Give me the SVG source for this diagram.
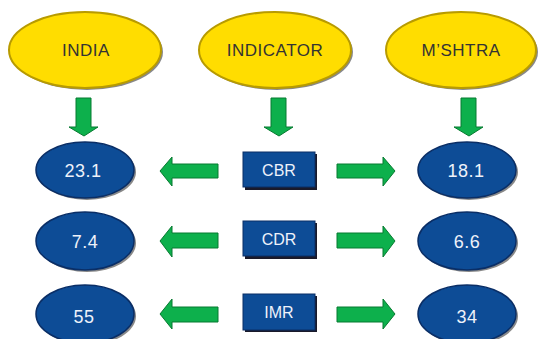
<svg xmlns="http://www.w3.org/2000/svg" width="538" height="339" viewBox="0 0 538 339">
<defs>
<style>
.ye{fill:#FFDD00;stroke:#B89B00;stroke-width:2}
.sh{fill:#555;opacity:0.7}
.be{fill:#0D4C96;stroke:#0A2E66;stroke-width:1.5}
.bx{fill:#0D4C96;stroke:#0A2E66;stroke-width:1}
.ar{fill:#0DB04C;stroke:#077A30;stroke-width:1}
.yt{font-family:"Liberation Sans",Arial,sans-serif;font-size:17px;fill:#333;text-anchor:middle;letter-spacing:0.5px}
.wt{font-family:"Liberation Sans",Arial,sans-serif;font-size:18px;fill:#EEF2FA;text-anchor:middle;letter-spacing:0.5px}
.bt{font-family:"Liberation Sans",Arial,sans-serif;font-size:16px;fill:#EEF2FA;text-anchor:middle}
</style>
</defs>
<rect width="538" height="339" fill="#fff"/>
<g id="india">
<ellipse class="sh" cx="87" cy="52" rx="76" ry="38"/>
<ellipse class="ye" cx="85" cy="50" rx="76" ry="38"/>
<text class="yt" x="86" y="56">INDIA</text>
</g>
<g id="indicator">
<ellipse class="sh" cx="277" cy="52" rx="76" ry="38"/>
<ellipse class="ye" cx="275" cy="50" rx="76" ry="38"/>
<text class="yt" x="275" y="56">INDICATOR</text>
</g>
<g id="mshtra">
<ellipse class="sh" cx="463" cy="52" rx="75" ry="38"/>
<ellipse class="ye" cx="461" cy="50" rx="75" ry="38"/>
<text class="yt" x="461" y="56">M’SHTRA</text>
</g>
<g id="v231">
<ellipse class="sh" cx="87" cy="172" rx="49" ry="28"/>
<ellipse class="be" cx="85" cy="170" rx="49" ry="28"/>
<text class="wt" x="83" y="177">23.1</text>
</g>
<g id="v74">
<ellipse class="sh" cx="87" cy="243" rx="49" ry="29"/>
<ellipse class="be" cx="85" cy="241" rx="49" ry="29"/>
<text class="wt" x="85" y="248">7.4</text>
</g>
<g id="v55">
<ellipse class="sh" cx="87" cy="316" rx="49" ry="29"/>
<ellipse class="be" cx="85" cy="314" rx="49" ry="29"/>
<text class="wt" x="84" y="323">55</text>
</g>
<g id="v181">
<ellipse class="sh" cx="469" cy="172" rx="49" ry="28"/>
<ellipse class="be" cx="467" cy="170" rx="49" ry="28"/>
<text class="wt" x="466" y="177">18.1</text>
</g>
<g id="v66">
<ellipse class="sh" cx="469" cy="243" rx="49" ry="29"/>
<ellipse class="be" cx="467" cy="241" rx="49" ry="29"/>
<text class="wt" x="467" y="248">6.6</text>
</g>
<g id="v34">
<ellipse class="sh" cx="469" cy="316" rx="49" ry="29"/>
<ellipse class="be" cx="467" cy="314" rx="49" ry="29"/>
<text class="wt" x="467" y="323">34</text>
</g>
<g id="cbr">
<rect x="245" y="154" width="72" height="36" fill="#1a1a2a"/>
<rect class="bx" x="243" y="152" width="72" height="35"/>
<text class="bt" x="279" y="176">CBR</text>
</g>
<g id="cdr">
<rect x="245" y="223" width="72" height="36" fill="#1a1a2a"/>
<rect class="bx" x="243" y="221" width="72" height="35"/>
<text class="bt" x="279" y="245">CDR</text>
</g>
<g id="imr">
<rect x="245" y="296" width="72" height="36" fill="#1a1a2a"/>
<rect class="bx" x="243" y="294" width="72" height="36"/>
<text class="bt" x="279" y="318">IMR</text>
</g>
<g id="connectors">
<polygon class="ar" points="76,98 91,98 91,127 98,127 84,136 69,127 76,127"/>
<polygon class="ar" points="271,98 286,98 286,127 293,127 279,136 264,127 271,127"/>
<polygon class="ar" points="461,98 476,98 476,127 483,127 469,136 454,127 461,127"/>
<polygon class="ar" points="218,164 172,164 172,157 160,171 172,186 172,178 218,178"/>
<polygon class="ar" points="218,233 172,233 172,226 160,241 172,257 172,248 218,248"/>
<polygon class="ar" points="218,307 172,307 172,299 160,314 172,329 172,322 218,322"/>
<polygon class="ar" points="337,164 383,164 383,157 395,171 383,186 383,178 337,178"/>
<polygon class="ar" points="337,233 383,233 383,226 395,241 383,257 383,248 337,248"/>
<polygon class="ar" points="337,307 383,307 383,299 395,314 383,329 383,322 337,322"/>
</g>
</svg>
